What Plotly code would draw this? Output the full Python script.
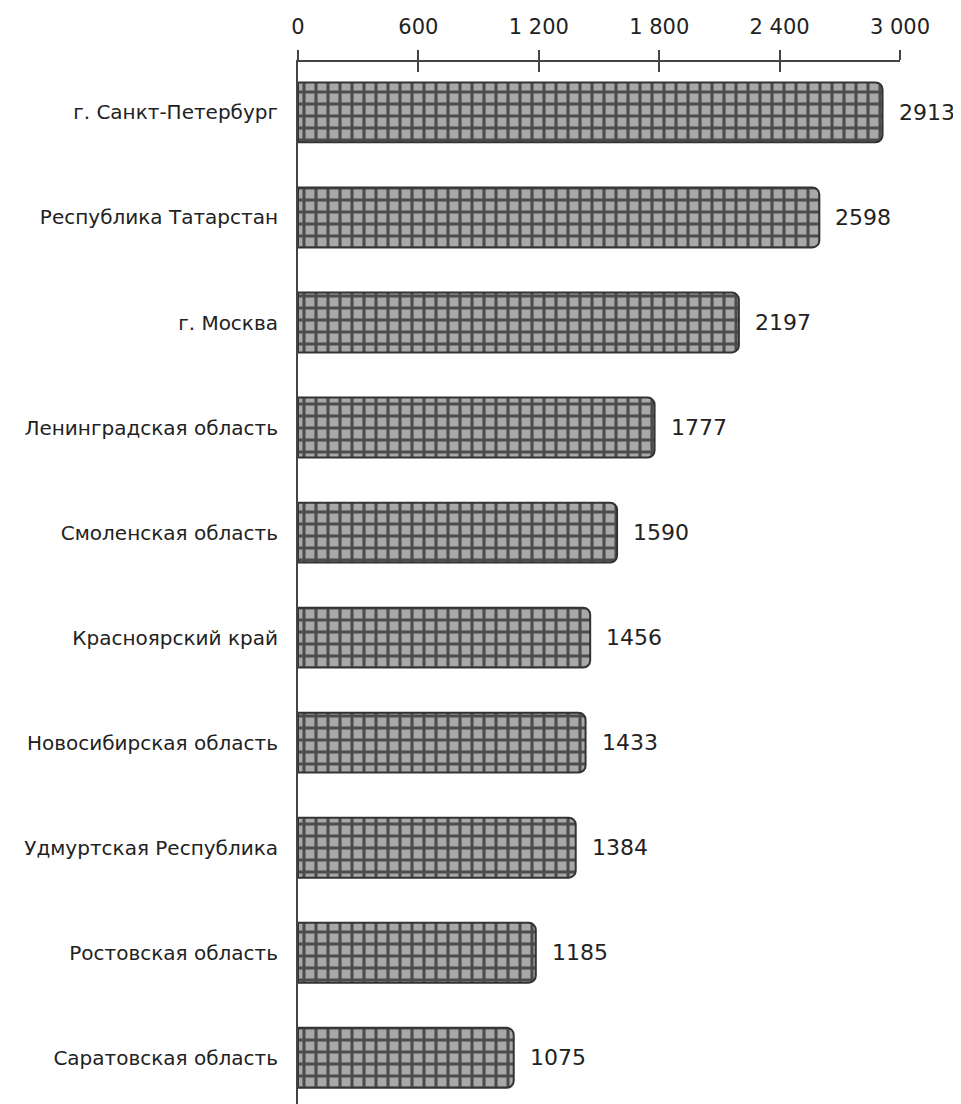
import plotly.graph_objects as go

regions = ["г. Санкт-Петербург", "Республика Татарстан", "г. Москва",
           "Ленинградская область", "Смоленская область", "Красноярский край",
           "Новосибирская область", "Удмуртская Республика", "Ростовская область",
           "Саратовская область"]
values = [2913, 2598, 2197, 1777, 1590, 1456, 1433, 1384, 1185, 1075]
tick_vals = [0, 600, 1200, 1800, 2400, 3000]
tick_text = ["0", "600", "1 200", "1 800", "2 400", "3 000"]

FONT = "DejaVu Sans"

fig = go.Figure()
fig.add_trace(go.Bar(
    y=regions, x=values, orientation="h",
    marker=dict(
        color="#9c9c9c",
        line=dict(color="#333333", width=2),
        cornerradius=7,
        pattern=dict(shape="+", fgcolor="#4c4c4c", bgcolor="#a8a8a8",
                     size=12, solidity=0.45, fillmode="replace"),
    ),
    hoverinfo="skip",
))

for r, v in zip(regions, values):
    fig.add_annotation(x=v, y=r, text=str(v), showarrow=False,
                       xanchor="left", xshift=14,
                       font=dict(family=FONT, size=22, color="#222222"))

axis_range = [0, 3000]
fig.update_layout(
    width=953, height=1096,
    margin=dict(l=290, r=61, t=54, b=0),
    paper_bgcolor="white", plot_bgcolor="white",
    showlegend=False,
    bargap=0.43,
    xaxis=dict(range=axis_range, side="top", tickvals=tick_vals, ticktext=tick_text,
               automargin=False,
               showline=True, linecolor="#444444", linewidth=2,
               ticks="outside", ticklen=10, tickwidth=2, tickcolor="#444444",
               showgrid=False, zeroline=False, ticklabelstandoff=8,
               tickfont=dict(family=FONT, size=21, color="#222222")),
    xaxis2=dict(range=axis_range, overlaying="x", side="top", anchor="y",
                automargin=False,
                tickvals=tick_vals, showticklabels=False,
                ticks="inside", ticklen=10, tickwidth=2, tickcolor="#444444",
                showgrid=False, zeroline=False, showline=False),
    yaxis=dict(categoryorder="array", categoryarray=regions,
               range=[9.44, -0.48], automargin=False,
               showline=True, linecolor="#444444", linewidth=2,
               ticks="", showgrid=False, zeroline=False,
               ticklabelstandoff=14,
               tickfont=dict(family=FONT, size=20, color="#222222")),
)
fig.add_trace(go.Scatter(x=[None], y=[None], xaxis="x2", showlegend=False, hoverinfo="skip"))

fig.write_html("out.html")
